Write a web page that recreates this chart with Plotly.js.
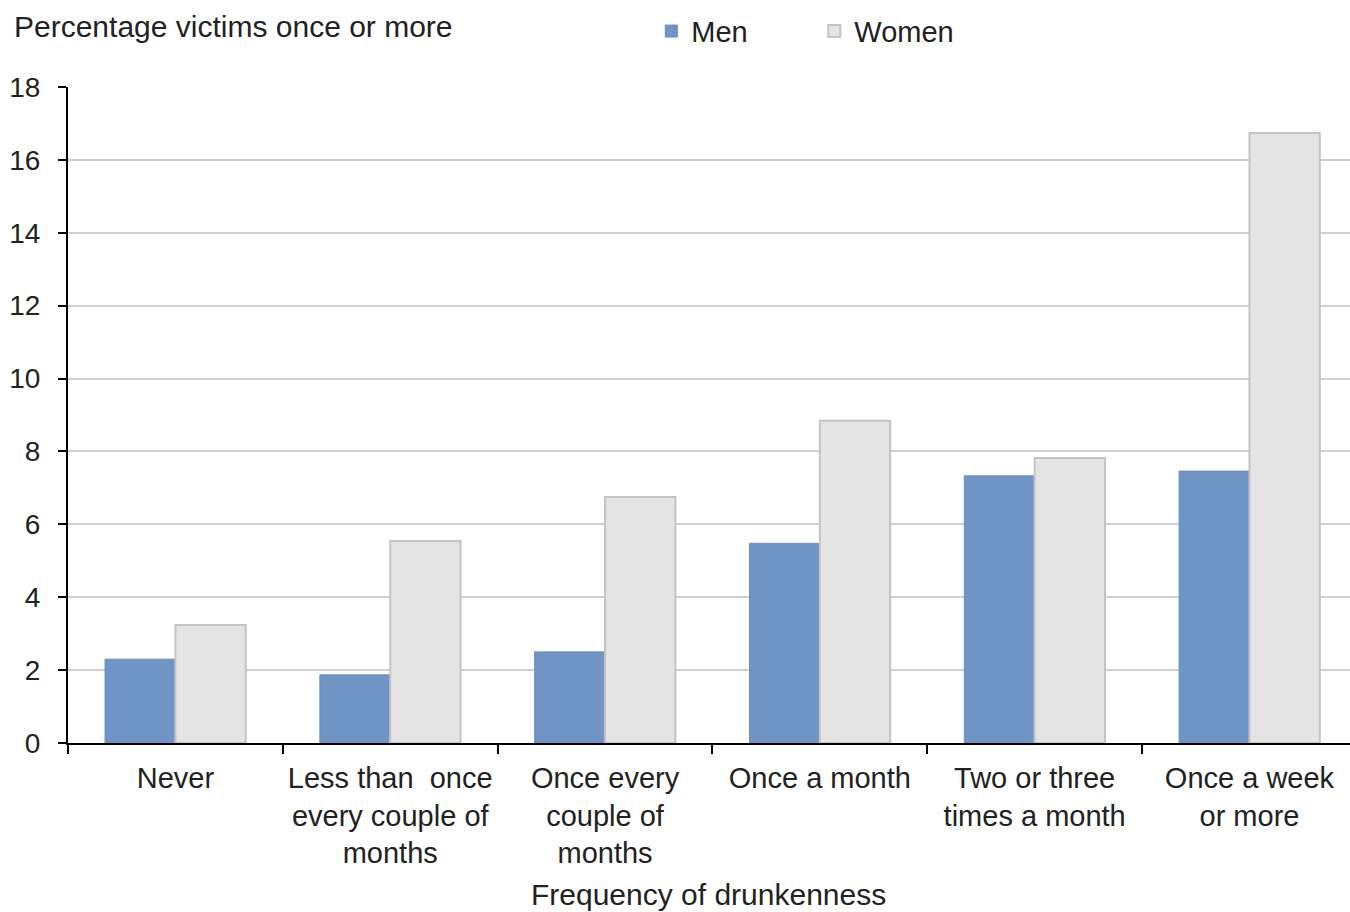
<!DOCTYPE html>
<html>
<head>
<meta charset="utf-8">
<script src="https://cdn.plot.ly/plotly-3.0.1.min.js"></script>
<style>html,body{margin:0;padding:0;background:#fff;}#chart{width:1350px;height:912px;}</style>
</head>
<body>
<div id="chart"></div>
<script>
const categories = ["Never", "Less than once every couple of months", "Once every couple of months", "Once a month", "Two or three times a month", "Once a week or more"];
const tickLabels = ["Never", "Less than  once<br>every couple of<br>months", "Once every<br>couple of<br>months", "Once a month", "Two or three<br>times a month", "Once a week<br>or more"];
const menValues = [2.3, 1.87, 2.5, 5.48, 7.33, 7.46];
const womenValues = [3.24, 5.54, 6.75, 8.84, 7.82, 16.74];
const yTicks = [0, 2, 4, 6, 8, 10, 12, 14, 16, 18];

const font = {family: "Liberation Sans, Arial, sans-serif", size: 29, color: "#222222"};
const titleFont = {family: "Liberation Sans, Arial, sans-serif", size: 30, color: "#222222"};
const tickFont = {family: "Liberation Sans, Arial, sans-serif", size: 28, color: "#222222"};

const traces = [
  {type: "bar", name: "Men", x: categories, y: menValues,
   marker: {color: "#7094c5", line: {color: "#6a8ec0", width: 1}}},
  {type: "bar", name: "Women", x: categories, y: womenValues,
   marker: {color: "#e4e4e4", line: {color: "#c4c4c4", width: 2}}}
];

const layout = {
  width: 1350, height: 912,
  margin: {l: 68, r: 0, t: 87, b: 169},
  paper_bgcolor: "#ffffff", plot_bgcolor: "#ffffff",
  font: font,
  barmode: "group", bargap: 0.345, bargroupgap: 0,
  showlegend: true,
  legend: {orientation: "h", x: 0.455, xanchor: "left", y: 1.085, yanchor: "middle",
           entrywidth: 118, entrywidthmode: "pixels", font: font, bgcolor: "rgba(0,0,0,0)"},
  xaxis: {
    type: "category", tickvals: categories, ticktext: tickLabels, range: [-0.5, 5.468],
    tickson: "boundaries", ticks: "outside", ticklen: 9, tickwidth: 2, tickcolor: "#000",
    showline: true, linecolor: "#000", linewidth: 2, showgrid: false, ticklabelstandoff: 8,
    tickfont: font
  },
  yaxis: {
    range: [0, 18], tickvals: yTicks, ticks: "outside", ticklen: 8, tickwidth: 2, tickcolor: "#000",
    showline: true, linecolor: "#000", linewidth: 2, ticklabelstandoff: 12,
    showgrid: true, gridcolor: "#cfcfcf", gridwidth: 2, zeroline: false,
    tickfont: tickFont, fixedrange: true
  },
  annotations: [
    {text: "Percentage victims once or more", xref: "paper", yref: "paper",
     x: -0.044, y: 1.0915, xanchor: "left", yanchor: "middle", showarrow: false, font: titleFont},
    {text: "Frequency of drunkenness", xref: "paper", yref: "paper",
     x: 0.4996, y: -0.2317, xanchor: "center", yanchor: "middle", showarrow: false, font: titleFont}
  ]
};

Plotly.newPlot("chart", traces, layout, {displayModeBar: false, staticPlot: true});
</script>
</body>
</html>
